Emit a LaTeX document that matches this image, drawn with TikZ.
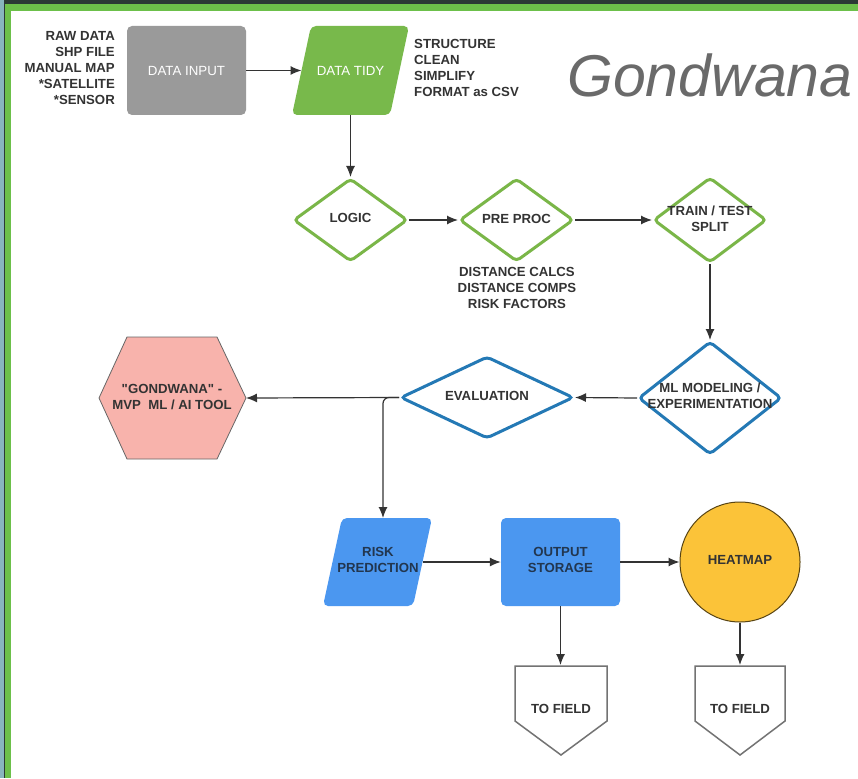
\documentclass[tikz,border=0pt]{standalone}
\usepackage{fontspec}
\setmainfont{Liberation Sans}[Ligatures=TeXOff]
\usetikzlibrary{arrows.meta,shapes.geometric}
\definecolor{txtc}{HTML}{333333}
\definecolor{arrc}{HTML}{333333}
\definecolor{frameg}{HTML}{6CC04A}
\definecolor{framed}{HTML}{2B3A35}
\definecolor{framet}{HTML}{88B5BE}
\definecolor{boxgray}{HTML}{9A9A9A}
\definecolor{tidyg}{HTML}{78B94B}
\definecolor{diag}{HTML}{7AB648}
\definecolor{diab}{HTML}{2479B5}
\definecolor{fillb}{HTML}{4B97F0}
\definecolor{navy}{HTML}{22364F}
\definecolor{heaty}{HTML}{FBC339}
\definecolor{hexp}{HTML}{F8B3AC}
\definecolor{titleg}{HTML}{6A6A6A}
\begin{document}
\begin{tikzpicture}[x=1pt,y=-1pt,
  lbl/.style={font=\bfseries\fontsize{13.2}{16}\selectfont, text=txtc, align=center, inner sep=0pt},
  wlbl/.style={font=\fontsize{13.3}{16}\selectfont, text=white, align=center, inner sep=0pt},
  nlbl/.style={lbl, text=navy},
  arr/.style={draw=arrc, line width=1.2pt, -{Latex[length=11pt,width=9pt]}},
  dia/.style={diamond, draw, line width=3pt, rounded corners=4pt, fill=white, inner sep=0pt},
  gdia/.style={dia, draw=diag},
  bdia/.style={dia, draw=diab},
  fieldbox/.style={fill=white, draw=black!55, line width=1.5pt}
]
\useasboundingbox (0,0) rectangle (858,778);
\fill[white] (0,0) rectangle (858,778);
% frame
\fill[framet] (0,0) rectangle (3.5,778);
\fill[framed] (3.5,0) rectangle (858,4.5);
\fill[framed] (3.5,0) rectangle (4.5,778);
\fill[frameg] (4.5,4.5) rectangle (858,11);
\fill[frameg] (4.5,4.5) rectangle (11,778);

% top row
\node[lbl, anchor=east, align=right] (rawtxt) at (115,68) {RAW DATA\\SHP FILE\\MANUAL MAP\\*SATELLITE\\*SENSOR};
\node[fill=boxgray, rounded corners=5pt, minimum width=119pt, minimum height=89pt, inner sep=0pt] (input) at (186.5,70.5) {};
\node[wlbl] (inputT) at (input.center) {DATA INPUT};
\fill[tidyg, rounded corners=5pt] (292,115) -- (311,26) -- (409,26) -- (390,115) -- cycle;
\node[wlbl] (tidy) at (350.5,70.5) {DATA TIDY};
\coordinate (tidyW) at (301.5,70.5);
\coordinate (tidyS) at (350.5,115);
\node[lbl, anchor=west, align=left] (tidytxt) at (414,68) {STRUCTURE\\CLEAN\\SIMPLIFY\\FORMAT as CSV};
\node[anchor=base west, inner sep=0pt, text=titleg, font=\itshape\fontsize{59}{60}\selectfont] (title) at (567,97) {Gondwana};

% diamonds row
\node[gdia, minimum width=114pt, minimum height=83pt] (logic) at (350.5,220) {};
\node[lbl] (logicT) at (350.5,218) {LOGIC};
\node[gdia, minimum width=114pt, minimum height=83pt] (pre) at (516.5,220) {};
\node[lbl] (preT) at (516.5,219) {PRE PROC};
\node[lbl] (pretxt) at (517,288) {DISTANCE CALCS\\DISTANCE COMPS\\RISK FACTORS};
\node[gdia, minimum width=113pt, minimum height=85pt] (train) at (710,220) {};
\node[lbl] (trainT) at (710,219) {TRAIN / TEST\\SPLIT};

% blue diamonds
\node[bdia, minimum width=143pt, minimum height=113pt] (ml) at (710,398) {};
\node[lbl] (mlT) at (710,396) {ML MODELING /\\EXPERIMENTATION};
\node[bdia, minimum width=173pt, minimum height=82pt] (eval) at (487,397.5) {};
\node[lbl] (evalT) at (487,396) {EVALUATION};

% hexagon
\filldraw[fill=hexp, draw=black!60, line width=0.8pt] (99,398) -- (127,337) -- (217,337) -- (246,398) -- (217,459) -- (127,459) -- cycle;
\node[lbl] (hex) at (172,397) {"GONDWANA" -\\MVP\ \ ML / AI TOOL};
\coordinate (hexE) at (246,398);

% bottom row
\fill[fillb, rounded corners=5pt] (323,606) -- (342,518) -- (432,518) -- (413,606) -- cycle;
\node[nlbl] (risk) at (378,560) {RISK\\PREDICTION};
\coordinate (riskN) at (383,518);
\coordinate (riskE) at (422.5,562);
\node[fill=fillb, rounded corners=5pt, minimum width=119pt, minimum height=88pt, inner sep=0pt] (output) at (560.5,562) {};
\node[nlbl] (outputT) at (560.5,560) {OUTPUT\\STORAGE};
\node[circle, fill=heaty, draw=black!65!heaty, line width=1pt, minimum size=120pt, inner sep=0pt] (heat) at (740,562) {};
\node[lbl] (heatT) at (740,560) {HEATMAP};

% to field
\filldraw[fieldbox] (515,666) -- (607,666) -- (607,721) -- (561,755) -- (515,721) -- cycle;
\node[lbl] (field1) at (561,709) {TO FIELD};
\coordinate (f1N) at (560.5,665);
\filldraw[fieldbox] (695,666) -- (785,666) -- (785,721) -- (740,755) -- (695,721) -- cycle;
\node[lbl] (field2) at (740,709) {TO FIELD};
\coordinate (f2N) at (740,665);

% connectors
\draw[arr] (input.east) -- (tidyW);
\draw[arr] (tidyS) -- (logic.north);
\draw[arr] (logic.east) -- (pre.west);
\draw[arr] (pre.east) -- (train.west);
\draw[arr] (train.south) -- (ml.north);
\draw[arr] (ml.west) -- (eval.east);
\draw[arr] (eval.west) -- (hexE);
\draw[arr, rounded corners=6pt] (eval.west) -| (riskN);
\draw[arr] (riskE) -- (output.west);
\draw[arr] (output.east) -- (heat.west);
\draw[arr] (output.south) -- (f1N);
\draw[arr] (heat.south) -- (f2N);
\end{tikzpicture}
\end{document}
